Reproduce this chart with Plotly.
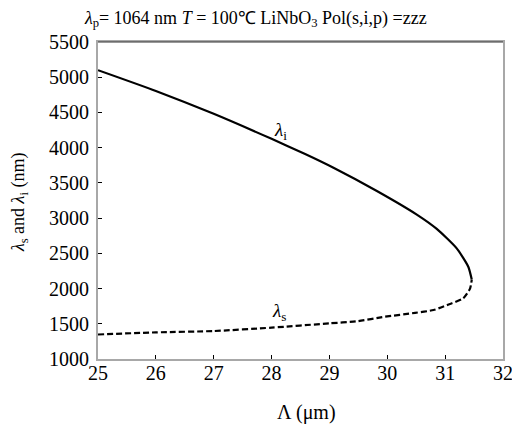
import plotly.graph_objects as go

# Idler wavelength (solid) vs grating period
period_i = [25.0, 26.0, 27.0, 28.0, 28.58, 29.07, 29.82, 30.51, 30.85, 31.20, 31.40, 31.46]
lambda_i = [5100, 4805, 4480, 4125, 3910, 3715, 3385, 3050, 2850, 2570, 2310, 2128]

# Signal wavelength (dashed) vs grating period
period_s = [25.0, 26.0, 27.0, 28.0, 29.0, 29.47, 29.96, 30.48, 30.80, 31.03, 31.31, 31.43, 31.46]
lambda_s = [1348, 1378, 1397, 1445, 1506, 1535, 1600, 1655, 1695, 1765, 1860, 2000, 2128]

x_ticks = [25, 26, 27, 28, 29, 30, 31, 32]
y_ticks = [1000, 1500, 2000, 2500, 3000, 3500, 4000, 4500, 5000, 5500]

FONT = "Liberation Serif, Times New Roman, serif"

fig = go.Figure()
fig.add_trace(go.Scatter(x=period_i, y=lambda_i, mode="lines",
                         line=dict(color="black", width=2.2, shape="spline", smoothing=0.6),
                         showlegend=False, cliponaxis=False))
fig.add_trace(go.Scatter(x=period_s, y=lambda_s, mode="lines",
                         line=dict(color="black", width=2.2, dash="6px,3px", shape="spline", smoothing=0.6),
                         showlegend=False, cliponaxis=False))

fig.add_annotation(x=28.15, y=4231, text="<i>λ</i><sub>i</sub>", showarrow=False,
                   font=dict(family=FONT, size=19, color="black"))
fig.add_annotation(x=28.13, y=1663, text="<i>λ</i><sub>s</sub>", showarrow=False,
                   font=dict(family=FONT, size=19, color="black"))

# axis titles placed as annotations for exact placement
fig.add_annotation(xref="paper", yref="paper", x=0.514, y=0, yanchor="middle",
                   yshift=-53, text="Λ (μm)", showarrow=False,
                   font=dict(family=FONT, size=20, color="black"))
fig.add_annotation(xref="paper", yref="paper", x=0, y=0.495, xanchor="center",
                   xshift=-79, textangle=-90,
                   text="<i>λ</i><sub>s</sub> and <i>λ</i><sub>i</sub> (nm)", showarrow=False,
                   font=dict(family=FONT, size=18, color="black"))

axis_common = dict(showline=True, linecolor="#a8a8a8", linewidth=2, mirror=True,
                   ticks="inside", ticklen=4, tickcolor="black", tickwidth=1,
                   showgrid=False, zeroline=False, automargin=False,
                   tickfont=dict(family=FONT, size=20, color="black"))

# page has an 8px default body margin, so figure is 8px smaller and margins shifted
fig.update_layout(
    template="none",
    width=512, height=418,
    margin=dict(l=90, r=17, t=34, b=67, autoexpand=False),
    paper_bgcolor="white", plot_bgcolor="white",
    font=dict(family=FONT, color="black"),
    title=dict(text="<i>λ</i><sub>p</sub>= 1064 nm <i>T</i> = 100℃ LiNbO<sub>3</sub> Pol(s,i,p) =zzz",
               x=0.484, xanchor="center", xref="container", y=0.978, yanchor="middle",
               font=dict(family=FONT, size=18, color="black")),
    xaxis=dict(range=[25, 32], tickvals=x_ticks, ticktext=[str(v) for v in x_ticks],
               ticklabelstandoff=-5, **axis_common),
    yaxis=dict(range=[1000, 5500], tickvals=y_ticks, ticktext=[str(v) for v in y_ticks],
               ticklabelstandoff=3, **axis_common),
)

fig.add_shape(type="line", xref="paper", yref="paper", x0=0, x1=1, y0=1, y1=1,
              line=dict(color="#333333", width=1))

fig.write_html("out.html")
